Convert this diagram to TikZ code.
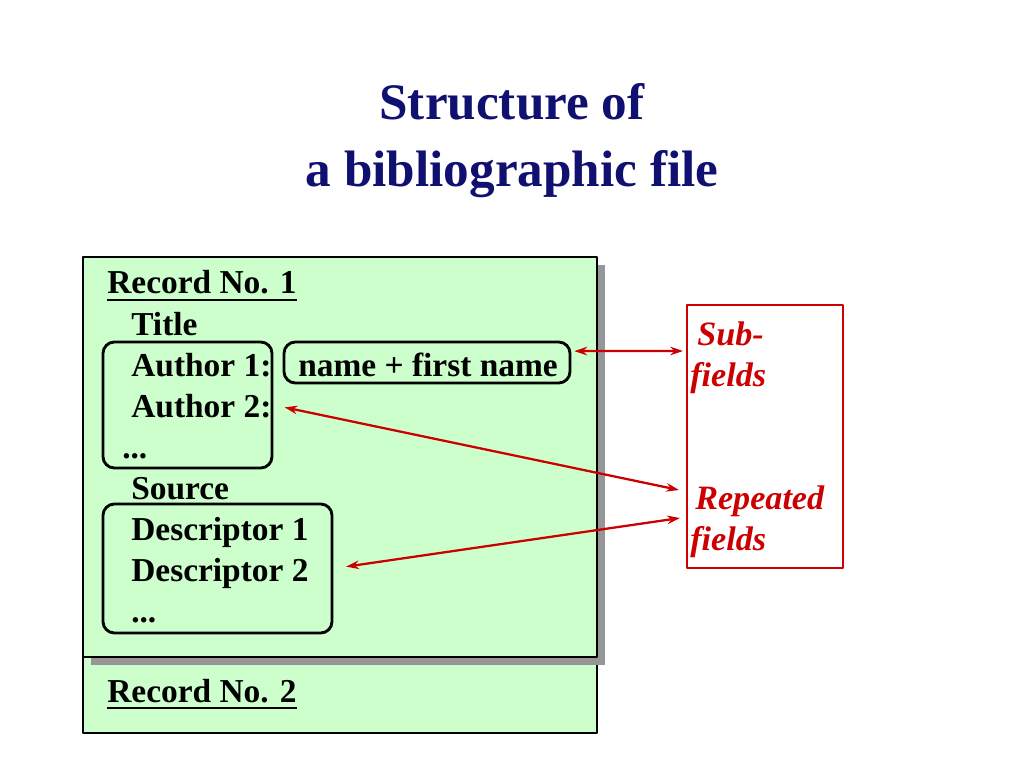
\documentclass[tikz,border=0pt]{standalone}
\usepackage{fontspec}
\setmainfont{Liberation Serif}
\usetikzlibrary{arrows.meta,fit}
\definecolor{recgreen}{RGB}{204,255,204}
\definecolor{titleblue}{RGB}{16,16,112}
\definecolor{linkred}{RGB}{204,0,0}
\definecolor{shadowgray}{RGB}{150,150,150}
\begin{document}
\begin{tikzpicture}[x=0.703125pt,y=-0.703125pt,line join=round,>={Stealth[length=9pt,width=6pt]},
	txt/.style={anchor=base west,inner sep=0pt,font=\fontsize{23.5}{29}\selectfont\bfseries},
	sidetxt/.style={txt,text=linkred,font=\fontsize{24}{29}\selectfont\bfseries\itshape},
	grp/.style={draw,line width=2pt,rounded corners=8pt,inner sep=0pt},
	link/.style={<->,draw=linkred,line width=1.6pt}]
	\useasboundingbox (0,0) rectangle (1024,768);
	% title
	\node[anchor=base,font=\fontsize{36}{44}\selectfont\bfseries,text=titleblue] (ttl1) at (512,120) {Structure of};
	\node[anchor=base,font=\fontsize{36}{44}\selectfont\bfseries,text=titleblue] (ttl2) at (512,187) {a bibliographic file};
	% records
	\filldraw[fill=recgreen,line width=2pt] (83,600) rectangle (597,733);
	\fill[shadowgray] (91,265) rectangle (605,665);
	\filldraw[fill=recgreen,line width=2pt] (83,257) rectangle (597,657);
	\node[txt] (rec1) at (107,294) {Record No. 1};
	\node[txt] (title) at (131,335) {Title};
	\node[txt] (aut1) at (131,376) {Author 1:};
	\node[txt] (aut2) at (131,417) {Author 2:};
	\node[txt] (autdots) at (122,458) {...};
	\node[txt] (source) at (131,499) {Source};
	\node[txt] (desc1) at (131,540) {Descriptor 1};
	\node[txt] (desc2) at (131,581) {Descriptor 2};
	\node[txt] (descdots) at (131,622) {...};
	\node[txt] (rec2) at (107,702) {Record No. 2};
	\foreach \r in {rec1,rec2} \draw[line width=1.6pt] ([yshift=-4pt]\r.base west) -- ([yshift=-4pt]\r.base east);
	\node[grp,fit={(103,342) (272,468)}] (authors) {};
	\node[grp,fit={(103,504) (332,633)}] (descs) {};
	\node[grp,fit={(284,342) (570,383)}] (namebox) {};
	\node[txt,anchor=base] (name) at (428,376) {name + first name};
	% side box
	\node[draw=linkred,line width=0.8pt,inner sep=0pt,fit={(687,305) (843,568)}] (side) {};
	\node[sidetxt] (sub) at (697,345) {Sub-};
	\node[sidetxt] (subf) at (690,386) {fields};
	\node[sidetxt] (rep) at (695,509) {Repeated};
	\node[sidetxt] (repf) at (690,550) {fields};
	\coordinate (subtip) at (683,351);
	\coordinate (reptipA) at (679,490);
	\coordinate (reptipB) at (680,518);
	\draw[link,shorten <=2pt] ([yshift=8pt]namebox.east) -- (subtip);
	\draw[link,shorten >=8pt] (reptipA) -- (authors.east);
	\draw[link,shorten >=9pt] (reptipB) -- (descs.east);
\end{tikzpicture}
\end{document}
